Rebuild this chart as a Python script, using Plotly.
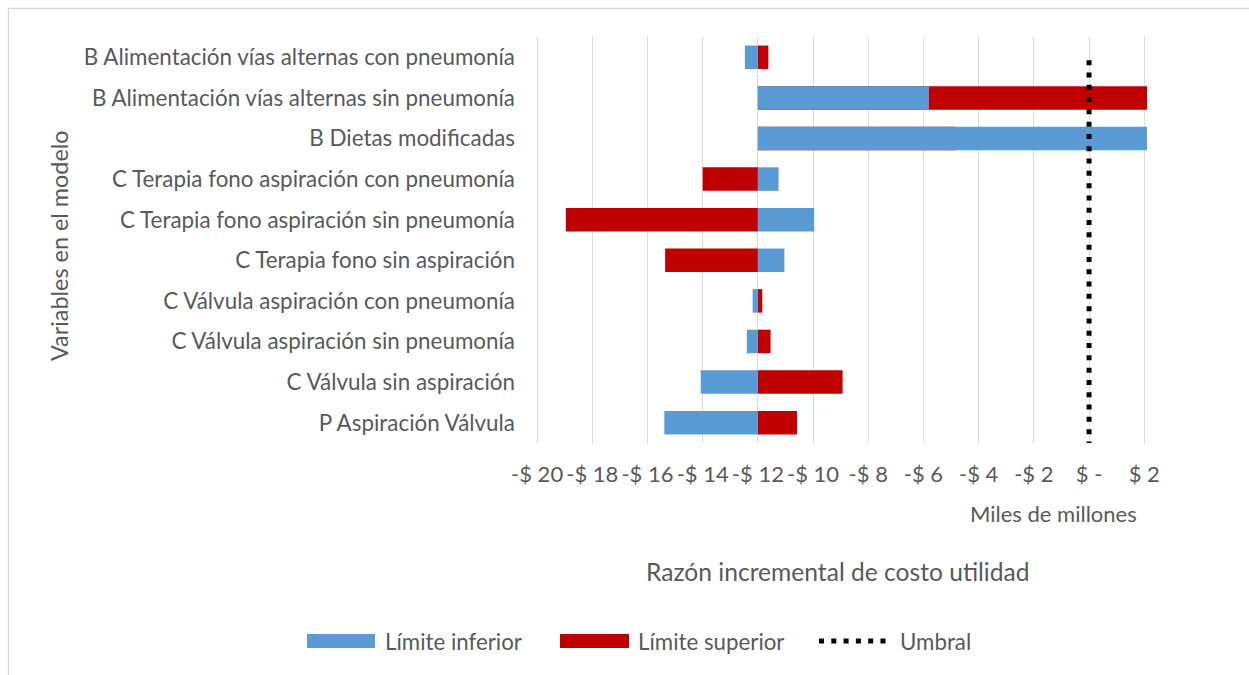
import plotly.graph_objects as go

# Variables del análisis de sensibilidad (de arriba hacia abajo)
variables = [
    "B Alimentación vías alternas con pneumonía",
    "B Alimentación vías alternas sin pneumonía",
    "B Dietas modificadas",
    "C Terapia fono aspiración con pneumonía",
    "C Terapia fono aspiración sin pneumonía",
    "C Terapia fono sin aspiración",
    "C Válvula aspiración con pneumonía",
    "C Válvula aspiración sin pneumonía",
    "C Válvula sin aspiración",
    "P Aspiración Válvula",
]

# RICU en miles de millones
caso_base = -12.0
limite_inferior = [-12.47, -5.80, 2.10, -11.25, -9.96, -11.04, -12.19, -12.40, -14.07, -15.39]
limite_superior = [-11.62, 2.10, -4.85, -14.00, -18.96, -15.36, -11.84, -11.54, -8.93, -10.58]
umbral = 0.0
umbral_alto = 8.93  # extremo superior de la línea de umbral en el eje de variables

tick_vals = [-20, -18, -16, -14, -12, -10, -8, -6, -4, -2, 0, 2]
tick_text = ["-$ 20", "-$ 18", "-$ 16", "-$ 14", "-$ 12", "-$ 10", "-$ 8", "-$ 6",
             "-$ 4", "-$ 2", "$ -", "$ 2"]

AZUL = "#5b9bd5"
ROJO = "#c00000"
GRIS = "#595959"
FUENTE = "Lato"

W, H = 1249, 675
L, R, T, B = 536, 1147, 37, 443  # área de trazado en píxeles
X_MIN, X_MAX = -20.04, 2.1


def px(x):
    return (x - L) / (R - L)


def py(y):
    return (B - y) / (B - T)


n = len(variables)
pos = [n - 1 - i for i in range(n)]

fig = go.Figure()
fig.add_trace(go.Bar(
    y=pos, x=[v - caso_base for v in limite_superior], base=caso_base,
    orientation="h", marker=dict(color=ROJO, line=dict(width=0)),
    width=0.58, name="Límite superior", showlegend=False,
))
fig.add_trace(go.Bar(
    y=pos, x=[v - caso_base for v in limite_inferior], base=caso_base,
    orientation="h", marker=dict(color=AZUL, line=dict(width=0)),
    width=0.58, name="Límite inferior", showlegend=False,
))
fig.add_trace(go.Scatter(
    x=[umbral, umbral], y=[umbral_alto, -0.5], mode="lines",
    line=dict(color="black", width=5, dash="5px,7.3px"),
    name="Umbral", showlegend=False,
))

fig.update_layout(
    width=W, height=H,
    margin=dict(l=L, r=W - R, t=T, b=H - B),
    paper_bgcolor="white", plot_bgcolor="white",
    barmode="overlay",
    font=dict(family=FUENTE, color=GRIS, size=22),
    xaxis=dict(
        range=[X_MIN, X_MAX], tickvals=tick_vals, ticktext=tick_text,
        showgrid=True, gridcolor="#d9d9d9", gridwidth=1.3,
        zeroline=False, showline=False, ticks="",
        ticklabelstandoff=16, tickfont=dict(size=22, color=GRIS),
    ),
    yaxis=dict(
        range=[-0.5, n - 0.5], tickvals=pos, ticktext=variables,
        showgrid=False, zeroline=False, showline=False, ticks="",
        ticklabelstandoff=20, tickfont=dict(size=22.4, color=GRIS),
    ),
)

anot = [
    dict(text="Miles de millones", x=px(1053), y=py(513), size=22),
    dict(text="Razón incremental de costo utilidad", x=px(838), y=py(571), size=24.6),
    dict(text="Variables en el modelo", x=px(59), y=py(246), size=23.4, angle=-90),
    dict(text="Límite inferior", x=px(383), y=py(641), size=22.3, xanchor="left"),
    dict(text="Límite superior", x=px(636), y=py(641), size=22.3, xanchor="left"),
    dict(text="Umbral", x=px(898), y=py(641), size=22.3, xanchor="left"),
]
for a in anot:
    fig.add_annotation(
        text=a["text"], x=a["x"], y=a["y"], xref="paper", yref="paper",
        xanchor=a.get("xanchor", "center"), yanchor="middle",
        textangle=a.get("angle", 0), showarrow=False,
        font=dict(family=FUENTE, size=a["size"], color=GRIS),
    )

# Leyenda: muestras de color y de línea
fig.add_shape(type="rect", xref="paper", yref="paper",
              x0=px(307), x1=px(375), y0=py(634), y1=py(648),
              fillcolor=AZUL, line=dict(width=0))
fig.add_shape(type="rect", xref="paper", yref="paper",
              x0=px(560), x1=px(629), y0=py(634), y1=py(648),
              fillcolor=ROJO, line=dict(width=0))
fig.add_shape(type="line", xref="paper", yref="paper",
              x0=px(819), x1=px(888), y0=py(641), y1=py(641),
              line=dict(color="black", width=5, dash="5px,7.3px"))

# Marco del gráfico
fig.add_shape(type="rect", xref="paper", yref="paper",
              x0=px(8.5), x1=px(1300), y0=py(8.5), y1=py(720),
              line=dict(color="#d9d9d9", width=1.3), layer="below")

fig.write_html("out.html")
